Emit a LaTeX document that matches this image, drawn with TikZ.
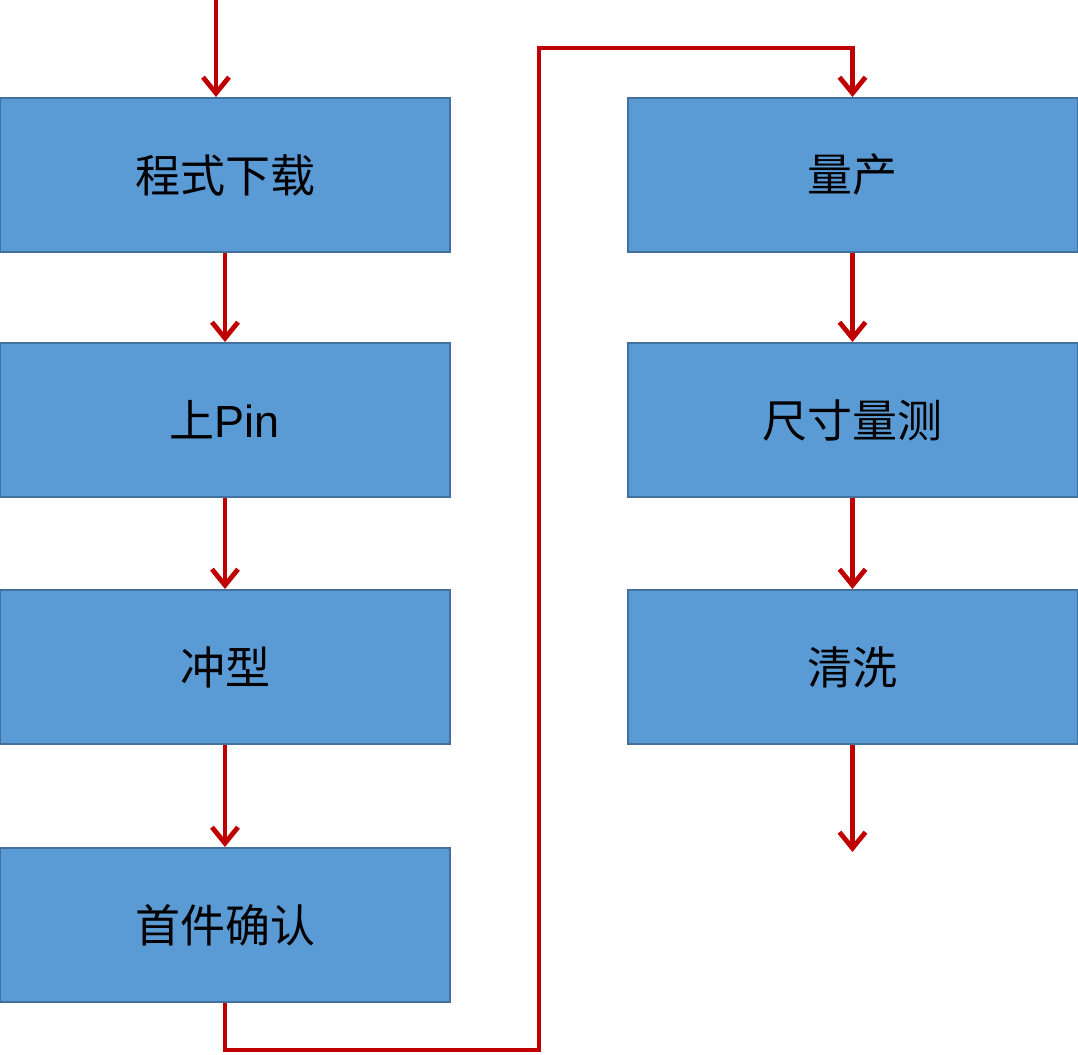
\documentclass[tikz,border=0pt]{standalone}
\usepackage{fontspec}
\setmainfont{Noto Sans CJK SC}
\newfontfamily\latinfont{Liberation Sans}
\usetikzlibrary{arrows.meta}
\definecolor{boxblue}{RGB}{91,155,213}
\definecolor{boxedge}{RGB}{65,113,156}
\definecolor{flowred}{RGB}{192,0,0}
\begin{document}
\begin{tikzpicture}[x=0.5pt,y=-0.5pt,
    stepbox/.style={draw=boxedge, fill=boxblue, line width=1pt,
        minimum width=225pt, minimum height=77pt, inner sep=0pt,
        font=\fontsize{22.5}{26}\selectfont},
    flow/.style={draw=flowred, line width=2.4pt,
        -{Straight Barb[length=8pt,width=13pt,line width=2.4pt]}}]
    \useasboundingbox (0,0) rectangle (1078,1055);

    % left column
    \node[stepbox] (dl) at (225,175) {程式下载};
    \node[stepbox] (pin) at (225,420) {上{\latinfont Pin}};
    \node[stepbox] (ch) at (225,667) {冲型};
    \node[stepbox] (qr) at (225,925) {首件确认};

    % right column
    \node[stepbox] (lc) at (852.5,175) {量产};
    \node[stepbox] (cc) at (852.5,420) {尺寸量测};
    \node[stepbox] (qx) at (852.5,667) {清洗};

    % free ends
    \coordinate (start) at (216,0);
    \coordinate (turnA) at (539,1050);
    \coordinate (turnB) at (539,48);
    \coordinate (finish) at (850,852);

    % arrows
    \draw[flow] (start) -- (start |- dl.north);
    \draw[flow] (dl) -- (pin);
    \draw[flow] (pin) -- (ch);
    \draw[flow] (ch) -- (qr);
    \draw[flow] (qr.south) |- (turnA) -- (turnB) -| (lc.north);
    \draw[flow] (lc) -- (cc);
    \draw[flow] (cc) -- (qx);
    \draw[flow] (qx.south) -- (qx.south |- finish);
\end{tikzpicture}
\end{document}
